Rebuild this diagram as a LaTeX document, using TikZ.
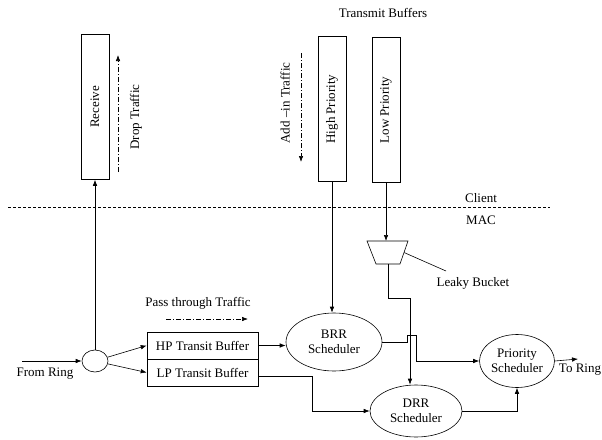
\documentclass[tikz,border=0pt]{standalone}
\usepackage{fontspec}
\setmainfont{Liberation Serif}
\usepackage{graphicx}
\usetikzlibrary{arrows.meta,shapes.geometric}

\tikzset{
  buffer/.style={draw, minimum width=28pt, minimum height=145pt, inner sep=0pt},
  transit/.style={draw, minimum width=111pt, minimum height=27pt, inner sep=0pt},
  sched/.style={draw, ellipse, align=center, inner sep=0pt},
  flow/.style={->, dash pattern=on 5pt off 2pt on 1pt off 2pt},
}

\begin{document}
\begin{tikzpicture}[x=1pt, y=-1pt, line width=0.6pt, >={Latex[length=6pt,width=4.5pt]}, font=\fontsize{13}{15}\selectfont]
  \useasboundingbox (0,0) rectangle (602,439);

  % client side
  \draw (95,107) node[buffer] (receive) {\rotatebox{90}{Receive}};
  \draw (332,109) node[buffer] (high) {\rotatebox{90}{High Priority}};
  \draw (386,110) node[buffer] (low) {\rotatebox{90}{Low Priority}};
  \draw (383,13) node (tb) {Transmit Buffers};

  \draw (136,117) node[rotate=90] (drop) {Drop Traffic};
  \coordinate (d1) at (118,172);
  \coordinate (d2) at (118,55);
  \draw[flow] (d1) -- (d2);

  \draw (285,103) node[rotate=90] (add) {Add --in Traffic};
  \coordinate (a1) at (301,53);
  \coordinate (a2) at (301,162);
  \draw[flow] (a1) -- (a2);

  % client / MAC border
  \coordinate (cl) at (8,207);
  \coordinate (cr) at (550,207);
  \draw[dash pattern=on 3pt off 2pt] (cl) -- (cr);
  \draw (481,198) node (client) {Client};
  \draw (481,220) node (mac) {MAC};

  % MAC side
  \coordinate (bucket top) at (386,241);
  \coordinate (bucket bot) at (388,264);
  \coordinate (bucket east) at (404,252.5);
  \draw (367,241) -- (408,241) -- (400,264) -- (376,264) -- cycle;
  \draw (473,283) node (leaky) {Leaky Bucket};
  \coordinate (lb) at (446,271);
  \draw (bucket east) -- (lb);

  \draw (95,361) node[draw, ellipse, minimum width=26pt, minimum height=22pt, inner sep=0pt] (split) {};
  \draw (202.5,345.5) node[transit] (hpt) {HP Transit Buffer};
  \draw (202.5,372.5) node[transit] (lpt) {LP Transit Buffer};
  \draw (334,342) node[sched, minimum width=96pt, minimum height=58pt] (brr) {BRR\\Scheduler};
  \draw (416,411) node[sched, minimum width=92pt, minimum height=52pt] (drr) {DRR\\Scheduler};
  \draw (517,361) node[sched, minimum width=75pt, minimum height=53pt] (prio) {Priority\\Scheduler};

  \draw (198,303) node (pass) {Pass through Traffic};
  \coordinate (p1) at (166,319);
  \coordinate (p2) at (248,319);
  \draw[flow] (p1) -- (p2);

  \coordinate (ringin) at (22,361);
  \draw (45,374) node (from) {From Ring};
  \coordinate (ringout) at (578,359);
  \draw (580,370) node (to) {To Ring};

  \draw[->] (ringin) -- (split);
  \draw[->] (split) -- (receive);
  \draw[->] (split) -- (hpt.west);
  \draw[->] (split) -- (lpt.west);
  \draw[->] (hpt.east) -- (hpt.east -| brr.west);
  \draw[->] ([yshift=-4pt]lpt.east) -- ++(54,0) |- (drr.west);
  \draw[->] (high.south) -- (high.south |- brr.north);
  \draw[->] (low.south) -- (low.south |- bucket top);
  \coordinate (jog) at (410,298);
  \draw[->] (bucket bot) |- (jog) -- (jog |- drr.north);
  \draw[->] (brr.east) -- ++(25,0) -- ++(0,-7) -- ++(9,0) |- (prio.west);
  \draw[->] (drr.east) -| (prio.south);
  \draw[->] (prio.east) -- (ringout);
\end{tikzpicture}
\end{document}
